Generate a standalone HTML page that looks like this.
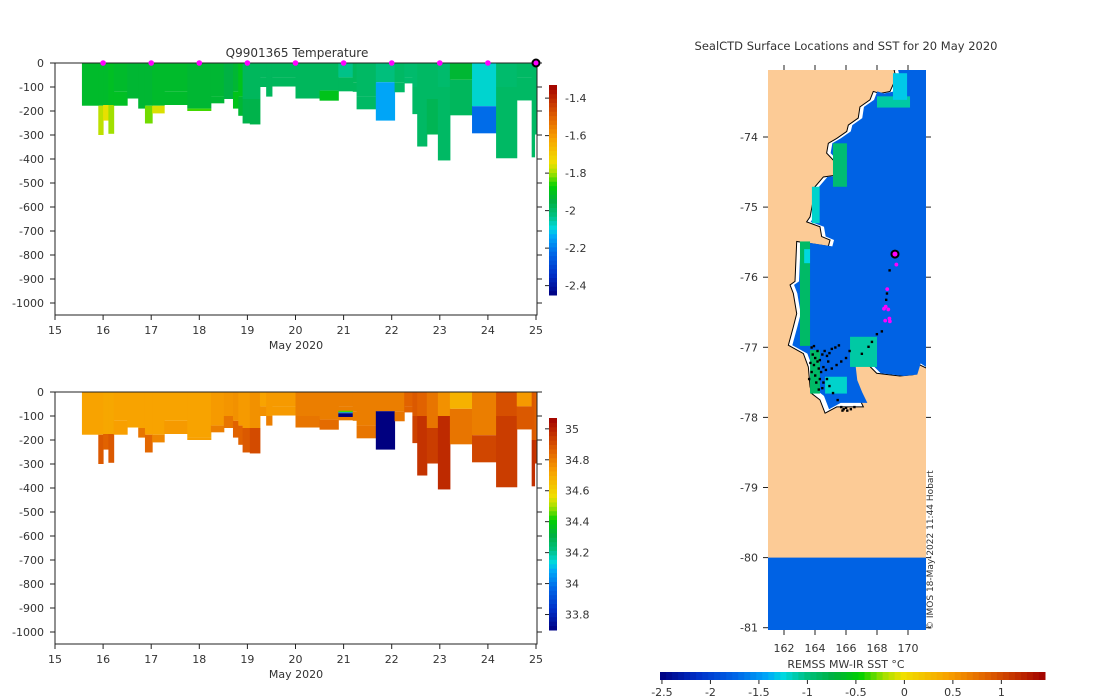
<!DOCTYPE html>
<html><head><meta charset="utf-8">
<style>
html,body{margin:0;padding:0;background:#fff;}
svg{display:block;font-family:"DejaVu Sans","Liberation Sans",sans-serif;}
text{fill:#333;font-size:11px;}
</style></head>
<body>
<svg id="fig" width="1100" height="700" viewBox="0 0 1100 700" xmlns="http://www.w3.org/2000/svg">
<defs>
<clipPath id="clipTop"><rect x="55" y="63" width="482" height="252"/></clipPath>
<clipPath id="clipBot"><rect x="55" y="392" width="482" height="252"/></clipPath>
<clipPath id="clipMap"><rect x="768" y="70" width="158" height="560"/></clipPath>
</defs>
<text x="297" y="57" text-anchor="middle" style="font-size:12px">Q9901365  Temperature</text>
<text x="846" y="50" text-anchor="middle" style="font-size:11.5px">SealCTD Surface Locations and SST for 20 May 2020</text>
<g id="gTop"></g>
<g id="gBot"></g>
<g id="gMap"></g>
<text x="846" y="668" text-anchor="middle">REMSS MW-IR SST °C</text>
<text transform="translate(933,630) rotate(-90)" style="font-size:9px">© IMOS 18-May-2022 11:44 Hobart</text>
</svg>
<script>
// ---- section data (one entry per profile column) ----
const colStart = [15.56,15.90,16.00,16.11,16.22,16.50,16.73,16.87,17.02,17.27,17.75,18.24,18.51,18.70,18.81,18.90,19.05,19.26,19.39,19.51,20.00,20.50,20.89,21.19,21.27,21.67,22.06,22.26,22.43,22.53,22.73,22.96,23.21,23.67,24.17,24.60,24.91,24.97];
const colEnd   = [15.90,16.00,16.11,16.22,16.50,16.73,16.87,17.02,17.27,17.75,18.24,18.51,18.70,18.81,18.90,19.05,19.26,19.39,19.51,20.00,20.50,20.89,21.19,21.27,21.67,22.06,22.26,22.43,22.53,22.73,22.96,23.21,23.67,24.17,24.60,24.91,24.97,25.03];
const colDepth = [178,300,240,295,178,148,190,252,210,175,200,168,150,190,220,252,256,100,140,98,148,157,118,120,193,240,122,85,213,348,298,406,218,293,397,156,393,298];
const colBreak = [178,178,175,175,120,100,150,178,178,120,190,140,100,120,140,150,150,60,100,60,100,115,60,80,140,80,80,60,100,100,150,100,70,180,100,60,200,200];
const tempUpper = [-1.92,-1.92,-1.92,-1.91,-1.92,-1.93,-1.93,-1.93,-1.92,-1.92,-1.93,-1.93,-1.95,-1.93,-1.90,-1.98,-1.98,-1.98,-1.98,-1.98,-1.98,-1.98,-2.03,-1.98,-1.99,-2.02,-1.99,-2.00,-2.00,-1.99,-1.99,-2.00,-1.93,-2.08,-2.00,-1.99,-1.99,-1.99];
const tempLower = [-1.80,-1.78,-1.75,-1.80,-1.91,-1.93,-1.93,-1.82,-1.76,-1.92,-1.84,-1.93,-1.95,-1.90,-1.93,-1.96,-1.96,-1.98,-1.98,-1.98,-1.98,-1.90,-1.98,-1.98,-1.99,-2.14,-1.99,-2.00,-1.99,-1.99,-1.97,-1.99,-1.98,-2.22,-1.99,-1.99,-1.99,-1.99];
const salUpper = [34.72,34.72,34.71,34.71,34.72,34.72,34.72,34.72,34.72,34.72,34.72,34.74,34.75,34.76,34.74,34.74,34.76,34.72,34.74,34.74,34.80,34.80,34.80,34.80,34.80,34.80,34.80,34.86,34.88,34.86,34.82,34.76,34.68,34.80,34.90,34.74,34.88,34.86];
const salLower = [34.74,34.88,34.86,34.88,34.73,34.72,34.82,34.85,34.78,34.74,34.73,34.80,34.82,34.86,34.86,34.88,34.91,34.76,34.80,34.74,34.82,34.84,34.80,34.80,34.82,33.70,34.82,34.86,34.93,34.96,34.94,34.98,34.82,34.92,34.94,34.88,34.97,34.95];
// salinity anomaly bands near 21 May
const anomStart = [20.89,20.89,20.89];
const anomEnd   = [21.19,21.19,21.19];
const anomTop   = [78,84,89];
const anomBot   = [84,89,104];
const anomSal   = [34.45,34.05,33.70];
// surfacing markers
const markerDays = [16,17,18,19,20,21,22,23,24];
const currentDay = 25;
// tick labels
const dayTicks = [15,16,17,18,19,20,21,22,23,24,25];
const depthTicks = [0,-100,-200,-300,-400,-500,-600,-700,-800,-900,-1000];
const tempCbTicks = [-1.4,-1.6,-1.8,-2,-2.2,-2.4];
const salCbTicks = [35,34.8,34.6,34.4,34.2,34,33.8];
// ---- map data ----
const coastLon = [169.10,169.23,168.84,168.19,167.76,167.55,166.90,166.79,166.15,166.05,165.40,164.86,164.75,165.18,165.50,164.54,164.00,163.89,163.68,163.46,164.32,164.43,164.97,164.86,162.82,162.71,162.39,162.60,162.82,162.60,162.28,163.25,163.57,163.68,163.79,164.32,164.65,165.40,167.12,166.79,166.47,166.37,166.90,167.98,169.48,170.34,170.56,171.5,171.5];
const coastLat = [-73.04,-73.16,-73.35,-73.38,-73.35,-73.47,-73.57,-73.73,-73.83,-73.92,-74.02,-74.09,-74.23,-74.33,-74.54,-74.57,-74.71,-74.90,-75.14,-75.21,-75.28,-75.42,-75.47,-75.56,-75.49,-76.06,-76.11,-76.23,-76.52,-76.71,-76.97,-77.09,-77.28,-77.56,-77.66,-77.75,-77.94,-77.85,-77.85,-77.70,-77.47,-77.28,-77.13,-77.37,-77.41,-77.39,-77.23,-77.33,-73.0];
const seaSST = -1.77;
const patchLon0 = [163.03,163.8,165.16,163.68,166.26,164.65,168.0,169.03,163.3];
const patchLon1 = [163.68,164.3,166.06,164.32,168.0,166.06,170.13,169.94,163.68];
const patchLat0 = [-75.49,-74.71,-74.09,-77.04,-76.85,-77.42,-73.42,-73.09,-75.6];
const patchLat1 = [-76.98,-75.23,-74.71,-77.66,-77.28,-77.66,-73.58,-73.47,-75.8];
const patchSST  = [-0.9,-1.2,-0.95,-0.9,-1.1,-1.2,-1.1,-1.3,-1.25];
const trackLon = [163.77,163.92,163.84,164.0,163.69,163.92,164.15,164.30,164.46,164.61,164.76,164.92,165.07,165.30,165.53,163.77,164.0,164.23,164.38,164.53,164.69,164.30,164.07,164.53,164.76,164.23,164.46,165.07,165.38,165.68,165.99,166.22,164.92,165.15,165.45,165.68,165.84,166.07,166.30,166.53,165.99,165.76,163.61,164.84,164.15,167.01,167.44,167.66,167.98,168.30,168.58,168.63,168.80];
const trackLat = [-77.0,-76.98,-77.1,-77.15,-77.22,-77.25,-77.2,-77.18,-77.1,-77.05,-77.12,-77.08,-77.02,-77.0,-76.97,-77.35,-77.4,-77.3,-77.35,-77.28,-77.32,-77.45,-77.5,-77.5,-77.45,-77.6,-77.58,-77.3,-77.25,-77.2,-77.15,-77.05,-77.55,-77.65,-77.75,-77.85,-77.88,-77.9,-77.88,-77.85,-77.86,-77.9,-77.45,-77.2,-77.05,-77.09,-76.99,-76.92,-76.81,-76.77,-76.32,-76.23,-75.90];
const recentLon = [169.25,168.66,168.56,168.45,168.73,168.80,168.53,168.83];
const recentLat = [-75.82,-76.17,-76.42,-76.45,-76.46,-76.59,-76.62,-76.63];
const lastLon = 169.16, lastLat = -75.67;
const lonTicks = [162,164,166,168,170];
const latTicks = [-74,-75,-76,-77,-78,-79,-80,-81];
const sstTicks = [-2.5,-2,-1.5,-1,-0.5,0,0.5,1];

// ---- colormap ----
const cmStops=[[0,[0,0,128]],[0.1,[0,48,200]],[0.2,[0,104,232]],[0.28,[0,168,248]],[0.32,[0,216,224]],[0.38,[0,192,128]],[0.45,[0,176,64]],[0.52,[0,208,0]],[0.58,[160,224,0]],[0.63,[240,224,0]],[0.75,[248,160,0]],[0.85,[224,96,0]],[0.95,[184,32,0]],[1,[160,0,0]]];
function cmap(t){t=Math.max(0,Math.min(1,t));for(let i=1;i<cmStops.length;i++){if(t<=cmStops[i][0]){const a=cmStops[i-1],b=cmStops[i];const f=(t-a[0])/(b[0]-a[0]);const c=a[1].map((v,k)=>Math.round(v+(b[1][k]-v)*f));return `rgb(${c[0]},${c[1]},${c[2]})`;}}return 'rgb(160,0,0)';}
const tMin=-2.45,tMax=-1.33,sMin=33.70,sMax=35.07,sstMin=-2.52,sstMax=1.45;
const NS="http://www.w3.org/2000/svg";
function el(tag,attrs,parent){const e=document.createElementNS(NS,tag);for(const k in attrs)e.setAttribute(k,attrs[k]);parent.appendChild(e);return e;}
function txt(s,x,y,anchor,parent){const t=el('text',{x:x,y:y,'text-anchor':anchor},parent);t.textContent=s;return t;}

const xDay = d => 55 + (d-15)*48.1;
function drawSection(g,y0,upper,lower,vmin,vmax,clipId,cbTicks,cbTop,cbBot,prefix,isSal){
  const yD = z => y0 + z*0.24;
  const data = el('g',{'clip-path':`url(#${clipId})`},g);
  for(let i=0;i<colStart.length;i++){
    const x0=xDay(colStart[i]),x1=xDay(colEnd[i]);
    const r1=el('rect',{x:x0,y:yD(0),width:x1-x0+0.5,height:yD(colBreak[i])-yD(0),fill:cmap((upper[i]-vmin)/(vmax-vmin))},data);
    
    
    const r2=el('rect',{x:x0,y:yD(colBreak[i]),width:x1-x0+0.5,height:Math.max(0,yD(colDepth[i])-yD(colBreak[i])),fill:cmap((lower[i]-vmin)/(vmax-vmin))},data);
    
    
  }
  if(isSal){
    for(let i=0;i<anomStart.length;i++){
      const a=el('rect',{x:xDay(anomStart[i]),y:yD(anomTop[i]),width:xDay(anomEnd[i])-xDay(anomStart[i]),height:yD(anomBot[i])-yD(anomTop[i]),fill:cmap((anomSal[i]-vmin)/(vmax-vmin))},data);
      
      
    }
  }
  const fr=el('rect',{x:55,y:y0,width:482,height:252,fill:'none',stroke:'#222','stroke-width':1},g);
  
  
  dayTicks.forEach(d=>{const x=xDay(d);el('line',{x1:x,x2:x,y1:y0+252,y2:y0+257,stroke:'#222'},g);
    const t=txt(String(d),x,y0+271,'middle',g);});
  depthTicks.forEach(z=>{const y=yD(-z);el('line',{x1:50,x2:55,y1:y,y2:y,stroke:'#222'},g);el('line',{x1:537,x2:542,y1:y,y2:y,stroke:'#222'},g);
    const t=txt(String(z),44,y+4,'end',g);});
  const xl=txt('May 2020',296,y0+286,'middle',g);
  
  
  const cb=el('g',{},g);
  
  
  const N=48;
  for(let k=0;k<N;k++){const y=cbBot-(k+1)*(cbBot-cbTop)/N;el('rect',{x:549,y:y,width:8,height:(cbBot-cbTop)/N+0.5,fill:cmap((k+0.5)/N)},cb);}
  const vy=v=>cbBot-(v-vmin)/(vmax-vmin)*(cbBot-cbTop);
  cbTicks.forEach(v=>{const y=vy(v);el('line',{x1:545,x2:549,y1:y,y2:y,stroke:'#222'},cb);
    const t=txt(String(v),565,y+4,'start',cb);});
}
const gTop=document.getElementById('gTop'), gBot=document.getElementById('gBot'), gMap=document.getElementById('gMap');
drawSection(gTop,63,tempUpper,tempLower,tMin,tMax,'clipTop',tempCbTicks,85,295,'temperature',false);
drawSection(gBot,392,salUpper,salLower,sMin,sMax,'clipBot',salCbTicks,418,630,'salinity',true);
markerDays.forEach(d=>{const c=el('circle',{cx:xDay(d),cy:63,r:2.8,fill:'#ff00ff'},gTop);
  
  });
const cur=el('circle',{cx:xDay(currentDay),cy:63,r:3.5,fill:'#ff00ff',stroke:'#000','stroke-width':2},gTop);



// ---- map ----
const mx = lon => 784 + (lon-162)*15.5;
const my = lat => 137 + (-74-lat)*70.1;
const mapData=el('g',{'clip-path':'url(#clipMap)'},gMap);
const land=el('rect',{x:768,y:70,width:158,height:560,fill:'#fccb96'},mapData);


const pts=coastLon.map((l,i)=>mx(l)+','+my(coastLat[i])).join(' ');
const coast=el('polygon',{points:pts,fill:'#ffffff',stroke:'#000','stroke-width':1},mapData);


const inner=coastLon.map((l,i)=>(mx(l)+(l<171?4:0))+','+(my(coastLat[i])+(coastLat[i]<-77.6?-4:0))).join(' ');
const seaCol=cmap((seaSST-sstMin)/(sstMax-sstMin));
const sea=el('polygon',{points:inner,fill:seaCol},mapData);


const band=el('rect',{x:768,y:my(-80),width:158,height:my(-81.1)-my(-80),fill:seaCol},mapData);


for(let i=0;i<patchLon0.length;i++){
  const p=el('rect',{x:mx(patchLon0[i]),y:my(patchLat0[i]),width:mx(patchLon1[i])-mx(patchLon0[i]),height:my(patchLat1[i])-my(patchLat0[i]),fill:cmap((patchSST[i]-sstMin)/(sstMax-sstMin))},mapData);
  
  
}
for(let i=0;i<trackLon.length;i++){
  const d=el('rect',{x:mx(trackLon[i])-1,y:my(trackLat[i])-1,width:2.4,height:2.4,fill:'#000'},mapData);
  
  
}
for(let i=0;i<recentLon.length;i++){
  const d=el('circle',{cx:mx(recentLon[i]),cy:my(recentLat[i]),r:1.9,fill:'#ff00ff'},mapData);
  
  
}
const last=el('circle',{cx:mx(lastLon),cy:my(lastLat),r:3.5,fill:'#ff00ff',stroke:'#000','stroke-width':2},mapData);


lonTicks.forEach(l=>{const x=mx(l);el('line',{x1:x,x2:x,y1:630,y2:635,stroke:'#222'},gMap);el('line',{x1:x,x2:x,y1:65,y2:70,stroke:'#222'},gMap);
  const t=txt(String(l),x,652,'middle',gMap);});
latTicks.forEach(l=>{const y=my(l);el('line',{x1:763,x2:768,y1:y,y2:y,stroke:'#222'},gMap);el('line',{x1:926,x2:931,y1:y,y2:y,stroke:'#222'},gMap);
  const t=txt(String(l),758,y+4,'end',gMap);});
const scb=el('g',{},gMap);


const sx=v=>660+(v-sstMin)/(sstMax-sstMin)*385;
const NN=64;
for(let k=0;k<NN;k++){el('rect',{x:660+k*385/NN,y:672,width:385/NN+0.5,height:8,fill:cmap((k+0.5)/NN)},scb);}
sstTicks.forEach(v=>{const x=sx(v);el('line',{x1:x,x2:x,y1:680,y2:684,stroke:'#222'},scb);
  const t=txt(String(v),x,696,'middle',scb);});
</script>
</body></html>
